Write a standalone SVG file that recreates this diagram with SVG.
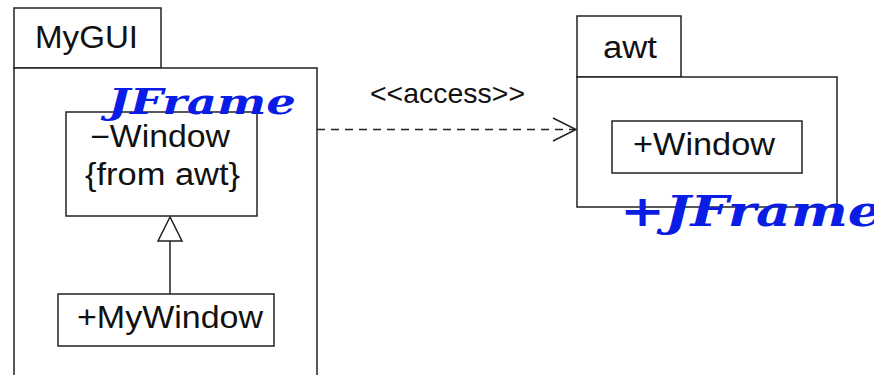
<svg xmlns="http://www.w3.org/2000/svg" width="874" height="375" viewBox="0 0 874 375">
<style>
.box{fill:#fff;stroke:#222;stroke-width:1.5}
.t{font-family:"Liberation Sans",Arial,sans-serif;font-size:31px;fill:#111;text-anchor:middle}
.lbl{font-family:"Liberation Sans",Arial,sans-serif;font-size:28px;fill:#111;text-anchor:middle}
.conn{fill:none;stroke:#222;stroke-width:1.5}
.ink{font-family:"DejaVu Serif",serif;font-style:italic;font-weight:bold;fill:#0a1de6}
</style>
<rect width="874" height="375" fill="#fff"/>
<g id="MyGUI">
<rect class="box" x="14" y="8" width="147" height="60"/>
<rect class="box" x="14" y="68" width="303" height="320"/>
<text class="t" x="86.5" y="48" textLength="103" lengthAdjust="spacingAndGlyphs">MyGUI</text>
</g>
<g id="awt">
<rect class="box" x="577" y="16" width="104" height="61"/>
<rect class="box" x="577" y="77" width="260" height="130"/>
<text class="t" x="630" y="58" textLength="54" lengthAdjust="spacingAndGlyphs">awt</text>
</g>
<g id="Window">
<rect class="box" x="66" y="112" width="191" height="104"/>
<text class="t" x="160" y="147" textLength="140" lengthAdjust="spacingAndGlyphs">−Window</text>
<text class="t" x="162.5" y="185" textLength="155" lengthAdjust="spacingAndGlyphs">{from awt}</text>
</g>
<g id="MyWindow">
<rect class="box" x="58" y="294" width="216" height="52"/>
<text class="t" x="170" y="328" textLength="186" lengthAdjust="spacingAndGlyphs">+MyWindow</text>
</g>
<g id="awtWindow">
<rect class="box" x="612" y="121" width="190" height="52"/>
<text class="t" x="704" y="155" textLength="142" lengthAdjust="spacingAndGlyphs">+Window</text>
</g>
<g id="connectors">
<line class="conn" x1="170" y1="294" x2="170" y2="241"/>
<polygon class="box" points="170,217 158,241 182,241"/>
<line class="conn" x1="317" y1="129.5" x2="575" y2="129.5" stroke-dasharray="8 6"/>
<polyline class="conn" points="553,118 576,129.5 553,141"/>
<text class="lbl" x="447.5" y="103" textLength="155" lengthAdjust="spacingAndGlyphs">&lt;&lt;access&gt;&gt;</text>
</g>
<g id="annotations">
<text class="ink" x="108" y="114" font-size="36" textLength="188" lengthAdjust="spacingAndGlyphs">JFrame</text>
<text class="ink" x="620" y="226" font-size="42" textLength="262" lengthAdjust="spacingAndGlyphs">+JFrame</text>
</g>
</svg>
